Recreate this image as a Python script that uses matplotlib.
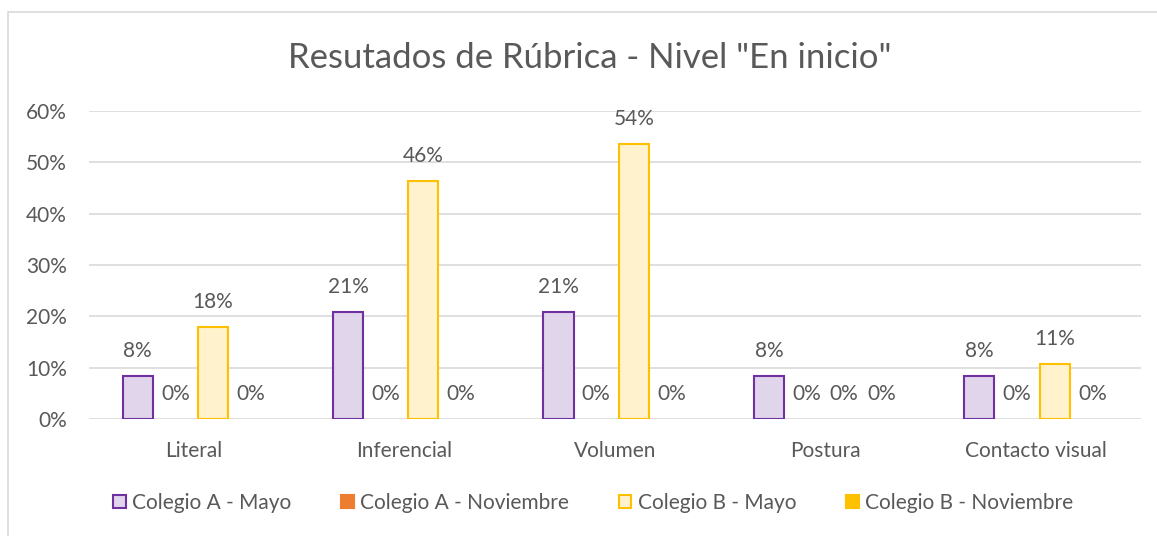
import matplotlib
matplotlib.use("Agg")
import matplotlib.pyplot as plt
from matplotlib.patches import Patch, Rectangle
import numpy as np

plt.rcParams['font.family'] = ['Lato', 'DejaVu Sans']

categories = ["Literal", "Inferencial", "Volumen", "Postura", "Contacto visual"]
series_names = ["Colegio A - Mayo", "Colegio A - Noviembre", "Colegio B - Mayo", "Colegio B - Noviembre"]
a_mayo = [0.0833, 0.2083, 0.2083, 0.0833, 0.0833]
a_nov = [0.0, 0.0, 0.0, 0.0, 0.0]
b_mayo = [0.1786, 0.4643, 0.5357, 0.0, 0.1071]
b_nov = [0.0, 0.0, 0.0, 0.0, 0.0]
y_ticks = [0.0, 0.1, 0.2, 0.3, 0.4, 0.5, 0.6]

series = [a_mayo, a_nov, b_mayo, b_nov]
faces = ["#E1D5EB", "#ED7D31", "#FFF2CC", "#FFC000"]
edges = ["#7030A0", "#ED7D31", "#FFC000", "#FFC000"]
text_color = "#595959"
fs = 15

fig = plt.figure(figsize=(11.57, 5.36), dpi=100)
ax = fig.add_axes([89/1157, 117/536, (1141-89)/1157, (419-111)/536])

x = np.arange(len(categories))
slot = 0.179
bw = 0.143
for i, (vals, fc, ec) in enumerate(zip(series, faces, edges)):
    pos = x + (i - 1.5) * slot
    lws = [1.5 if v > 0 else 0 for v in vals]
    ax.bar(pos, vals, width=bw, color=fc, edgecolor=ec, linewidth=lws, zorder=3)
    for p, v in zip(pos, vals):
        ax.annotate(f"{v*100:.0f}%", (p, v), xytext=(0, 18), textcoords="offset points",
                    ha="center", va="center", fontsize=fs, color=text_color)

ax.set_xlim(-0.5, len(categories) - 0.5)
ax.set_ylim(0, 0.6)
ax.set_yticks(y_ticks)
ax.set_yticklabels([f"{t*100:.0f}%" for t in y_ticks])
ax.set_xticks(x)
ax.set_xticklabels(categories)
ax.tick_params(axis="both", length=0, labelsize=fs, labelcolor=text_color)
ax.tick_params(axis="x", pad=16)
ax.tick_params(axis="y", pad=16)
ax.yaxis.grid(True, color="#D9D9D9", linewidth=1.2, zorder=0)
ax.set_axisbelow(True)
for s in ax.spines.values():
    s.set_visible(False)

fig.text(590/1157, 1 - 58/536, 'Resutados de Rúbrica - Nivel "En inicio"', ha="center", va="center",
         fontsize=25, color=text_color)

handles = [Patch(facecolor=fc, edgecolor=ec, linewidth=1.5) for fc, ec in zip(faces, edges)]
fig.legend(handles, series_names, loc="center", bbox_to_anchor=(593/1157, 1 - 503/536), ncol=4,
           frameon=False, fontsize=fs, labelcolor=text_color, handlelength=0.6, handleheight=0.6,
           handletextpad=0.3, columnspacing=2.4)

fig.patches.append(Rectangle((8/1157, -0.1), 1.2, 1 - 12/536 + 0.1, transform=fig.transFigure,
                             fill=False, edgecolor="#D9D9D9", linewidth=1.2))

fig.savefig("out.png", dpi=100)
